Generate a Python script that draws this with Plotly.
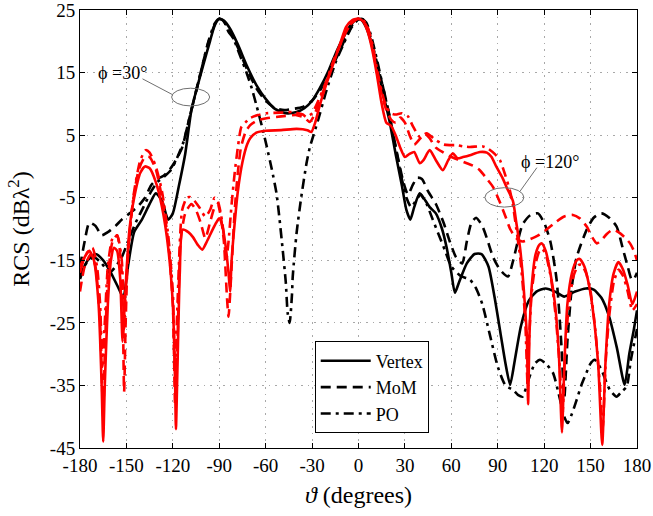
import plotly.graph_objects as go

# ---------------- data (theta in degrees, RCS in dB lambda^2) ----------------
# phi = 30 deg (black)
vertex30_x = [-180, -175, -170, -165, -160, -155, -152, -149, -145, -140, -135, -131, -127, -123, -120, -116, -112,
              -108, -105, -100, -96, -93, -90, -87, -83, -78, -72, -66, -60, -54, -47, -40, -35, -30, -25, -19,
              -14, -9, -5, -2, 0, 2, 5, 8, 12, 16, 20, 24, 28, 31, 33.5, 36, 39.5, 42, 46, 50, 54, 57, 60,
              62.3, 65, 70, 75, 79.5, 84, 88, 92, 95, 98, 101, 105, 110, 115, 121, 127, 133, 140, 147, 152,
              157, 162, 167, 172, 175, 178, 180]
vertex30_y = [-17.5, -15, -14, -15, -17, -19.5, -21, -16, -10.5, -8.5, -6, -4.3, -5.5, -8.5, -7.5, -3, 2,
              9, 12, 16.5, 20, 22.5, 23.6, 23.3, 22, 19.5, 16, 13, 10.8, 9.2, 8.5, 8.7, 9.3, 10.5, 12.5, 15.5,
              18.5, 21, 22.6, 23.4, 23.6, 23.4, 22.2, 20, 16, 11.5, 7.3, 2, -3, -7, -8.5, -6.5, -4.3, -5, -6.5,
              -7.5, -10, -13, -17, -20.2, -18.5, -15.5, -14, -14, -16, -21, -27, -31.5, -34.9, -31, -25.5,
              -21.5, -20, -19.5, -20, -20.8, -20, -19.5, -19.7, -21, -24, -29, -34.9, -30, -26, -23]

mom30_x = [-180, -177, -174, -170, -166, -162, -157, -153, -148, -143, -138, -134, -130, -126, -122, -118, -114,
           -110, -106, -102, -98, -94, -91, -88, -84, -78, -72, -66, -60, -54, -48, -42, -36, -30, -24, -18,
           -12, -7, -3, 0, 3, 6, 9, 13, 17, 21, 25, 29, 32, 35, 38, 41, 45, 50, 55, 59, 63, 67, 70, 73, 76,
           80, 83, 87, 91.4, 96.6, 100, 106, 111, 116, 120, 124, 128, 131, 133, 135, 138, 141, 147.5, 152,
           157, 162, 166.8, 171, 174, 176.6, 178, 180]
mom30_y = [-16, -12, -9, -9.5, -11, -10.5, -9.5, -8.5, -7.5, -6.5, -5, -3, -2, -1.5, -0.5, 1, 3,
           7, 11, 15, 19, 22, 23.6, 23.4, 22, 19, 15.5, 12.5, 10.5, 9.3, 9, 9.2, 9.5, 10.5, 12.5, 15.5,
           18.5, 21.3, 23, 23.5, 23.5, 22, 19.5, 15.5, 11.5, 7, 2, -2.5, -4.5, -3, -1.8, -2, -4, -6, -9,
           -12, -14.5, -15.5, -12, -9, -8.2, -9.5, -11.5, -14.5, -16.5, -17.6, -15, -9.3, -7.8, -7.5, -9,
           -12, -18, -28, -37, -28, -19, -14.5, -10.1, -8.2, -7.5, -8.2, -9.6, -13.3, -16, -18.1, -18, -17]

po30_x = [-180, -176, -171, -166, -161, -157, -153, -149, -144, -139, -134, -130, -125, -121, -117, -113, -109,
          -105, -101, -97, -93, -90, -87, -84, -81, -77, -72.5, -69, -66, -62.5, -59.5, -56, -53, -51, -49,
          -47, -45.8, -44.5, -43, -42.5, -40, -37, -33.6, -31.5, -26, -21, -15, -10, -5, -1, 2, 5, 8, 12,
          16, 20, 24, 28, 31, 34, 37, 40, 44, 48, 52, 56, 60, 66, 72, 76, 80, 85, 90, 95, 99.8, 103, 106,
          110, 114, 117.3, 121, 125.7, 130, 133, 135.2, 138, 141, 144, 147.3, 150, 152.7, 157, 162.4,
          166.8, 170, 173.3, 176, 180]
po30_y = [-18, -15.5, -14.5, -15.5, -17, -16, -14.5, -12, -9, -6.5, -4, -2.5, -1.5, -0.5, 1.5, 4, 8,
          12, 16, 20, 22.8, 23.6, 23.2, 21.5, 20.5, 18, 15.1, 12.5, 9.8, 6.5, 3.4, -0.5, -4.3, -8.5, -13.3,
          -18.5, -23.4, -25, -20.5, -17.6, -10.6, -4.9, 0.5, 3, 7.5, 11.9, 16.5, 19.4, 22, 23.3, 23.6, 23,
          21, 17, 12.5, 8, 3, -2, -5, -6.5, -5.5, -4.5, -6, -8.5, -11, -13.5, -16, -17.5, -18.1, -19.5,
          -22, -27, -32, -35, -35.7, -36.5, -36.8, -34, -31.5, -30.9, -31.5, -33, -37, -40, -41, -39.5,
          -37.3, -35, -33, -31.5, -30.9, -32.5, -35.7, -36.8, -36, -35.2, -31, -26]

# phi = 120 deg (red)
vertex120_x = [-180, -177, -174, -171, -168, -166, -165, -164, -162, -160, -158, -156, -154, -152.5, -151.5,
               -150, -148, -145, -141, -138, -135, -131, -127, -123, -120, -118.5, -118, -117, -115.5,
               -113.7, -110, -107, -104, -101, -98, -94.3, -92, -90, -88, -86, -84, -83, -82, -80, -78, -75,
               -72, -70, -66, -60, -50, -40, -33, -30.5, -28, -25, -21, -16.6, -12, -8, -4, 0, 3, 6, 9, 12,
               15, 18, 21, 24, 27, 30, 33, 36, 39.6, 42, 46, 50, 54.5, 58, 61, 64, 67.5, 72, 78.4, 83, 86, 89,
               93, 96, 99.8, 102, 104.3, 106, 107.5, 108.8, 109.6, 110.5, 112, 114.5, 117, 118.5, 121, 124,
               127, 129.5, 131.5, 133, 135, 138, 141, 143, 146, 149, 152, 155, 157.5, 159.5, 162, 165, 168,
               171, 174, 177, 180]
vertex120_y = [-17, -14.5, -13.5, -15, -22, -35, -44, -35, -22, -15, -13, -13.5, -18, -28, -24,
               -17, -10, -5, -1, 0, -0.3, -2.5, -6.5, -13, -22, -35, -42, -32, -17,
               -10.1, -10.5, -11.3, -12.5, -13.3, -12, -10.1, -9, -8.3, -9.5, -12.5, -17, -20, -15, -9, -4, 0.7,
               3.5, 4.5, 5.4, 5.7, 5.8, 6, 5.8, 5.5, 7, 9.8, 13, 16.2, 19.5, 22.3, 23.4, 23.6, 23.2, 21.5, 18.5,
               14.5, 10, 7, 6.5, 5, 3, 1.5, 2, 2.3, 0.5, 1, 2.6, 1, -0.6, 1, 2.1, 1.3, 1.5, 1.8, 2.3, 2.2, 1.5,
               0, -1.8, -3.5, -5.5, -9, -12.8, -17, -22, -27, -38, -27, -19, -14, -12.5, -12.3, -13.5, -17,
               -22, -30, -42.5, -32, -22, -17, -15, -14.8, -16, -19, -24, -32, -44.5, -32, -22, -17, -15.3,
               -16.5, -19, -22, -20]

mom120_x = [-180, -177, -173, -170, -167, -165, -164, -162, -159, -156, -153, -151.5, -150.5, -149, -146, -142,
            -138, -135, -131, -127, -123, -120, -118.5, -117, -115, -112, -108, -105, -102, -99, -96, -93,
            -91, -89, -87, -85, -84, -82, -80, -78, -76, -73, -70, -65, -59.5, -50, -40, -35, -31.5, -29,
            -25, -20, -15, -10, -5, -2, 0, 3, 6, 9, 12, 15, 18, 21, 24, 27, 30, 33, 36, 40, 43, 46, 50, 55,
            60, 65, 70, 75, 78.4, 83, 87, 91, 95, 98, 102, 106, 110, 114, 117, 122, 128, 133, 138.6, 143,
            147.5, 151, 154, 157, 160.5, 164.5, 168, 172, 175.5, 178, 180]
mom120_y = [-20, -16, -14, -16, -25, -40, -30, -18, -12, -11, -17, -36, -25, -14, -6, -0.5,
            1.5, 1.5, -0.5, -5, -12, -22, -38, -28, -12, -7.5, -6, -7, -9, -11.5, -9, -6.5,
            -6, -8, -12, -21, -24, -16, -7, -1, 3, 5.5, 6.6, 7.4, 7.7, 8, 8.2, 7.8, 7.1, 8,
            10.5, 14, 17.5, 20.5, 22.8, 23.4, 23.6, 23.3, 22, 19, 15, 11.5, 9, 7.5, 7, 7.8, 7, 5, 3.5, 4.5,
            5.2, 4.5, 3, 2.2, 1.5, 1, 0.5, 0, -0.6, -2, -3.3, -5.5, -8, -10, -11.5, -12, -11.7, -11.3,
            -10.9, -10, -8.8, -8, -7.75, -8.3, -9.6, -11.3, -12.3, -11.8, -10.8, -10.1, -10.5, -11.3,
            -12.3, -13.5, -15]

po120_x = [-180, -176, -172, -169, -167, -165.5, -164, -162, -159, -156, -153, -151.5, -150.5, -148, -145, -141,
           -137.5, -135, -131, -127, -123, -120, -118.5, -117, -114, -111, -109, -106, -102.7, -99, -96, -93,
           -91, -89, -87, -85.5, -84, -82, -80, -78, -75.7, -72, -70.3, -65, -59.5, -50, -42.5, -36, -33.6,
           -30, -26, -21, -16, -11, -6, -2, 0, 3, 6, 9, 12, 15, 18, 21, 24, 28, 32, 35, 39.6, 44, 50, 55,
           59, 63.4, 68, 72, 77, 80.4, 84, 88, 91.4, 95, 98, 100, 102, 104.5, 106.5, 108, 109.3, 110.2, 112,
           114.5, 117, 119, 121.5, 124.5, 127.5, 130, 131.8, 133.5, 136, 139, 142, 144, 147, 150, 153, 156,
           157.8, 159.8, 162, 165, 168, 171, 174, 177, 180]
po120_y = [-16, -14, -13, -16, -22, -32, -25, -16, -11.5, -11, -15, -26, -20, -11, -4, 1,
           2.6, 2.2, 0, -4, -11, -20, -33, -22, -7, -5, -4.9, -5.5, -6.6, -8, -7, -5,
           -5.5, -7.5, -11, -15, -12, -6, -1, 3, 6.3, 7.3, 7.7, 8.2, 8.5, 8.6, 8.7, 8.3, 7.9,
           8.5, 10.5, 13.5, 17, 20, 22.5, 23.4, 23.6, 23.4, 22.2, 19.5, 15.5, 12, 9.5, 8.5, 8.3, 8.5, 8,
           6.5, 4.7, 5.3, 4.2, 3.5, 3.4, 3.4, 3.2, 3.1, 3.2, 3.2, 2.8, 2, 1, -1.5, -4, -6.5, -10, -14.5,
           -20, -26, -35, -28, -20, -15.5, -13.5, -13.2, -14.5, -18, -24, -32, -40, -30, -22, -17.5,
           -15.8, -15.7, -17, -20, -26, -35, -42, -31, -24, -18.5, -16.5, -17.5, -20, -23, -22]

x_ticks = [-180, -150, -120, -90, -60, -30, 0, 30, 60, 90, 120, 150, 180]
y_ticks = [-45, -35, -25, -15, -5, 5, 15, 25]

FONT = "Liberation Serif"
RED = "#ff0000"
DASH = "10px,6px"
DASHDOT = "10px,5px,3px,5px"

fig = go.Figure()

series = [
    (vertex30_x, vertex30_y, "black", "solid", "Vertex", True),
    (mom30_x, mom30_y, "black", DASH, "MoM", True),
    (po30_x, po30_y, "black", DASHDOT, "PO", True),
    (vertex120_x, vertex120_y, RED, "solid", "Vertex", False),
    (mom120_x, mom120_y, RED, DASH, "MoM", False),
    (po120_x, po120_y, RED, DASHDOT, "PO", False),
]
for xs, ys, col, dash, name, show in series:
    fig.add_trace(go.Scatter(
        x=xs, y=ys, mode="lines", name=name, showlegend=show,
        line=dict(color=col, width=2.6, dash=dash, shape="spline", smoothing=0.6),
    ))

axis_common = dict(
    showline=True, linecolor="black", linewidth=1, mirror="allticks",
    ticks="inside", ticklen=5, tickcolor="black",
    showgrid=True, gridcolor="#a8a8a8", griddash="1.5px,5px", gridwidth=1.3,
    zeroline=False, tickfont=dict(family=FONT, size=19, color="black"),
    automargin=False, ticklabeloverflow="allow",
)
fig.update_xaxes(range=[-180, 180], tickvals=x_ticks, ticktext=[str(v) for v in x_ticks], **axis_common)
fig.update_yaxes(range=[-45, 25], tickvals=y_ticks, ticktext=[str(v) for v in y_ticks], **axis_common)

fig.update_layout(
    width=653, height=516,
    margin=dict(l=80, r=16, t=10, b=68),
    paper_bgcolor="white", plot_bgcolor="white",
    font=dict(family=FONT, color="black"),
    legend=dict(
        x=0.4214, y=0.2432, xanchor="left", yanchor="top",
        bordercolor="black", borderwidth=1, bgcolor="white",
        font=dict(family=FONT, size=18, color="black"),
        itemwidth=50, tracegroupgap=0,
    ),
    showlegend=True,
)

# axis titles
fig.add_annotation(text="RCS (dBλ<sup>2</sup>)", xref="paper", yref="paper", x=-0.11, y=0.5,
                   textangle=-90, showarrow=False, font=dict(family=FONT, size=24, color="black"),
                   xanchor="center", yanchor="middle")
fig.add_annotation(text="<i>ϑ</i> (degrees)", xref="paper", yref="paper", x=0.5, y=-0.107,
                   showarrow=False, font=dict(family=FONT, size=24, color="black"),
                   xanchor="center", yanchor="middle")

# phi labels with ellipses and leader lines
fig.add_annotation(text="ϕ =30°", x=-152.8, y=14.9, xref="x", yref="y", showarrow=False,
                   font=dict(family=FONT, size=18, color="black"))
fig.add_annotation(text="ϕ =120°", x=123.7, y=0.7, xref="x", yref="y", showarrow=False,
                   font=dict(family=FONT, size=18, color="black"))
fig.add_shape(type="circle", xref="x", yref="y", x0=-120.8, x1=-96.2, y0=9.67, y1=12.5,
              line=dict(color="#707070", width=1))
fig.add_shape(type="circle", xref="x", yref="y", x0=81.7, x1=106.9, y0=-6.5, y1=-3.4,
              line=dict(color="#707070", width=1))
fig.add_shape(type="line", xref="x", yref="y", x0=-139.6, y0=14.0, x1=-120.4, y1=11.5,
              line=dict(color="#707070", width=1))
fig.add_shape(type="line", xref="x", yref="y", x0=115.3, y0=-0.2, x1=104.3, y1=-4.0,
              line=dict(color="#707070", width=1))

fig.write_html("out.html", config={"displayModeBar": False},
               post_script="document.body.style.margin='0px';document.body.style.overflow='hidden';")
